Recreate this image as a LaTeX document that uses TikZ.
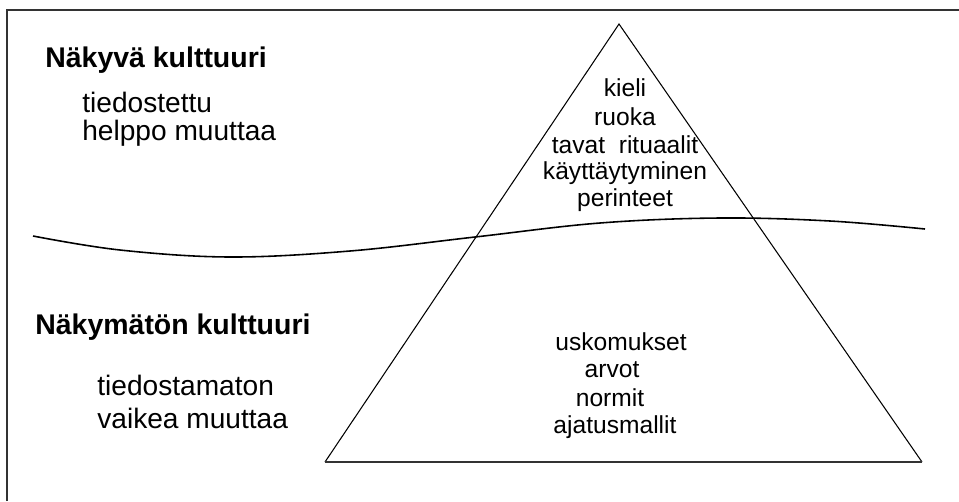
\documentclass[tikz,border=0pt]{standalone}
\usepackage{fontspec}
\setmainfont{Liberation Sans}
\usepackage{tikz}
\usetikzlibrary{positioning}
\usetikzlibrary{calc}

\tikzset{
  heading/.style={font=\fontsize{16.2}{19}\selectfont\bfseries, anchor=west, inner sep=0pt},
  sidetext/.style={font=\fontsize{16}{18}\selectfont, anchor=west, inner sep=0pt},
  pyrtext/.style={font=\fontsize{14}{16}\selectfont, inner sep=0pt},
}

\begin{document}
\begin{tikzpicture}[x=0.02cm, y=-0.02cm]
    \useasboundingbox (0,0) rectangle (959,501);
    \fill[white] (0,0) rectangle (959,501);

    % Frame (only top and left edges show)
    \draw[black!80, line width=1.2pt] (7,501) -- (7,10) -- (959,10);

    % Pyramid
    \coordinate (apex) at (619,24);
    \coordinate (baseL) at (325,462);
    \coordinate (baseR) at (922,462);
    \draw[line width=0.6pt] (baseL) -- (apex) -- (baseR);
    \draw[black!80, line width=1.2pt] (baseL) -- (baseR);

    % Waterline
    \draw[line width=0.9pt] plot[smooth, tension=0.6] coordinates {
      (33,236) (120,250) (230,257) (350,251) (475,237)
      (600,223) (720,218) (830,221) (925,229)};

    % Visible culture
    \node[heading] (visHead) at (45,60) {Näkyvä kulttuuri};
    \node[sidetext] (visA) at (82,102) {tiedostettu};
    \node[sidetext] (visB) at (82,133) {helppo muuttaa};

    % Invisible culture
    \node[heading] (invHead) at (35,327) {Näkymätön kulttuuri};
    \node[sidetext] (invA) at (97,385) {tiedostamaton};
    \node[sidetext] (invB) at (97,418) {vaikea muuttaa};

    % Tip of the iceberg
    \foreach \txt/\yy [count=\i] in {kieli/88, ruoka/117, tavat\ \ rituaalit/145,
        käyttäytyminen/173, perinteet/200} {
      \node[pyrtext] (top\i) at (625,\yy) {\txt};
    }

    % Under the surface
    \foreach \txt/\xx/\yy [count=\i] in {uskomukset/621/342, arvot/612/370,
        normit/610/398, ajatusmallit/615/427} {
      \node[pyrtext] (deep\i) at (\xx,\yy) {\txt};
    }
\end{tikzpicture}
\end{document}
